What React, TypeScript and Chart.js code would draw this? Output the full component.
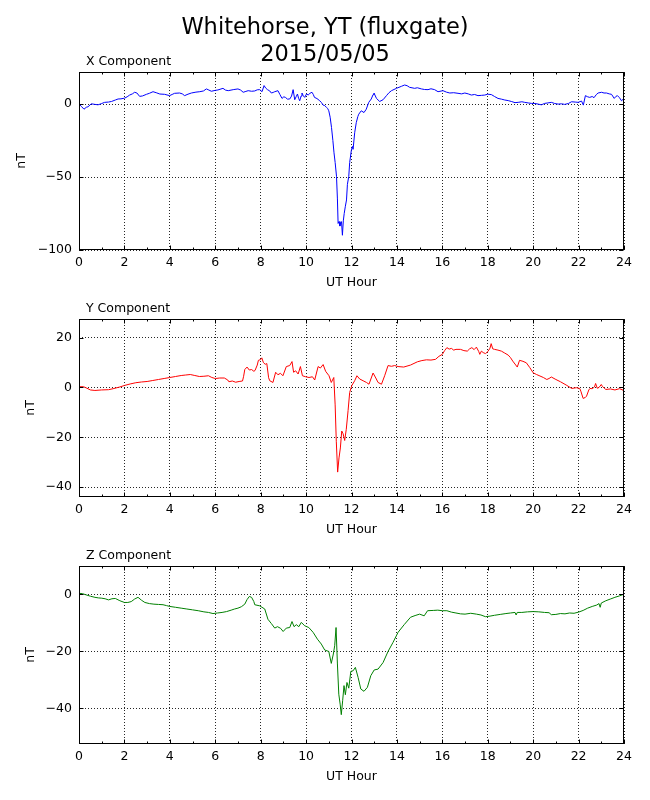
import React, { useEffect, useRef } from 'react';
import { Chart, registerables } from 'chart.js';

Chart.register(...registerables);

const FONT = "'DejaVu Sans', sans-serif";

const figureTitle = ['Whitehorse, YT (fluxgate)', '2015/05/05'];
const hourTicks = [0, 2, 4, 6, 8, 10, 12, 14, 16, 18, 20, 22, 24];
const hourMinorTicks = [1, 3, 5, 7, 9, 11, 13, 15, 17, 19, 21, 23];

const xTicks = [-100, -50, 0];
const yTicks = [-40, -20, 0, 20];
const zTicks = [-40, -20, 0];

// [UT hour, nT]
const xComponent: [number, number][] = [
  [0, 0], [0.1, -1.5], [0.22, -3.5], [0.32, -2.2], [0.4, -1.8], [0.54, 0.2], [0.7, -0.2], [0.84, -0.5],
  [1.0, 0.4], [1.13, 1.2], [1.3, 1.4], [1.43, 1.8], [1.6, 2.8], [1.72, 3.5], [1.85, 3.6], [2.01, 4.1],
  [2.12, 5.0], [2.23, 6.2], [2.35, 7.0], [2.45, 8.1], [2.55, 7.6], [2.67, 5.3], [2.8, 5.6], [2.97, 6.7],
  [3.1, 7.4], [3.26, 8.5], [3.4, 7.8], [3.56, 6.9], [3.77, 6.7], [3.99, 5.8], [4.1, 6.6], [4.21, 7.4],
  [4.43, 7.6], [4.55, 7.0], [4.65, 5.8], [4.8, 6.8], [4.95, 7.6], [5.15, 8.2], [5.32, 8.5], [5.48, 9.0],
  [5.61, 10.4], [5.72, 9.6], [5.83, 8.8], [6.0, 9.4], [6.12, 9.7], [6.34, 10.8], [6.45, 9.6], [6.57, 9.2],
  [6.79, 9.9], [7.0, 10.4], [7.12, 9.6], [7.23, 8.1], [7.35, 8.7], [7.45, 9.2], [7.6, 8.8], [7.74, 9.0],
  [7.85, 9.8], [7.96, 9.9], [8.06, 8.5], [8.15, 12.7], [8.22, 11.0], [8.3, 9.9], [8.4, 9.0], [8.47, 7.6],
  [8.55, 8.0], [8.62, 8.5], [8.76, 9.2], [8.85, 6.5], [8.94, 3.9], [9.02, 5.0], [9.09, 4.6], [9.18, 3.4],
  [9.28, 3.5], [9.36, 5.5], [9.43, 9.9], [9.5, 3.0], [9.56, 5.0], [9.62, 6.9], [9.67, 4.0], [9.72, 2.3],
  [9.78, 5.5], [9.82, 7.6], [9.88, 5.6], [9.94, 4.6], [10.02, 7.0], [10.09, 6.2], [10.17, 7.4], [10.26, 8.1],
  [10.32, 6.5], [10.37, 4.6], [10.48, 3.8], [10.6, 2.3], [10.68, 1.0], [10.75, -0.7], [10.82, -1.0], [10.9, -2.3],
  [10.95, -3.0], [11.0, -4.6], [11.06, -9.0], [11.12, -16.1], [11.18, -25], [11.23, -33.4], [11.28, -40], [11.34, -49.5],
  [11.38, -65], [11.41, -81.8], [11.45, -80.5], [11.49, -83.6], [11.53, -81], [11.56, -80.6], [11.6, -89.9], [11.64, -80],
  [11.68, -74.9], [11.73, -70], [11.78, -65.7], [11.82, -55], [11.88, -49.5], [11.92, -40], [11.99, -32], [12.04, -29],
  [12.07, -31], [12.14, -19.6], [12.21, -12.7], [12.28, -8.5], [12.32, -6.9], [12.43, -4.6], [12.55, -5.8], [12.65, -3.5],
  [12.76, 1.2], [12.87, 3.5], [12.95, 6.5], [12.99, 7.6], [13.1, 3.9], [13.24, 1.8], [13.39, 3.0], [13.54, 5.8],
  [13.65, 7.8], [13.76, 9.2], [13.98, 10.8], [14.2, 12.2], [14.34, 13.1], [14.45, 12.6], [14.56, 11.5], [14.78, 10.8],
  [14.9, 11.2], [15.08, 10.4], [15.22, 10.0], [15.37, 9.9], [15.5, 10.5], [15.66, 9.9], [15.81, 8.5], [16.03, 9.2],
  [16.18, 8.2], [16.33, 7.6], [16.5, 7.8], [16.69, 7.4], [16.85, 7.0], [16.99, 7.6], [17.14, 7.0], [17.28, 6.2],
  [17.42, 6.6], [17.57, 5.8], [17.72, 6.0], [17.87, 6.2], [18.0, 6.8], [18.16, 6.5], [18.3, 5.2], [18.45, 3.9],
  [18.6, 3.4], [18.75, 2.8], [18.9, 2.4], [19.04, 1.8], [19.2, 1.0], [19.34, 1.2], [19.5, 1.6], [19.63, 1.2],
  [19.78, 0.8], [19.92, 0.5], [20.08, 0.4], [20.22, 0], [20.36, -0.5], [20.51, 0.5], [20.65, 0.8], [20.8, 1.2],
  [20.95, 0.4], [21.1, 0], [21.25, 0.2], [21.39, -0.2], [21.55, 0.4], [21.69, 1.6], [21.85, 1.4], [21.98, 1.2],
  [22.13, 2.1], [22.21, -0.7], [22.3, 5.8], [22.4, 5.0], [22.49, 4.6], [22.6, 5.2], [22.68, 4.4], [22.78, 6.5],
  [22.86, 7.6], [23.01, 8.1], [23.12, 7.6], [23.23, 7.6], [23.35, 7.0], [23.45, 6.7], [23.57, 3.9], [23.64, 5.2],
  [23.71, 5.8], [23.8, 4.4], [23.89, 2.3], [24.0, 3.9],
];

const yComponent: [number, number][] = [
  [0, 0.3], [0.2, 0.3], [0.35, -0.3], [0.5, -1.0], [0.7, -1.2], [1.0, -1.0], [1.3, -0.9], [1.5, -0.5],
  [1.8, 0.2], [2.0, 0.8], [2.25, 1.4], [2.5, 1.9], [2.75, 2.2], [3.0, 2.4], [3.25, 2.8], [3.5, 3.2],
  [3.75, 3.6], [4.0, 4.0], [4.25, 4.4], [4.5, 4.8], [4.7, 5.0], [4.9, 5.2], [5.1, 4.8], [5.3, 4.4],
  [5.5, 4.5], [5.7, 4.7], [5.85, 4.0], [6.0, 3.6], [6.2, 3.8], [6.4, 3.8], [6.55, 3.0], [6.6, 2.3],
  [6.75, 2.6], [6.9, 2.1], [7.05, 2.4], [7.2, 2.6], [7.25, 4.5], [7.3, 7.2], [7.4, 8.2], [7.5, 7.0],
  [7.6, 7.2], [7.7, 6.5], [7.75, 6.8], [7.85, 9.0], [7.9, 10.9], [8.0, 11.2], [8.05, 11.9], [8.12, 10.0],
  [8.2, 9.3], [8.27, 9.6], [8.35, 3.9], [8.4, 2.7], [8.54, 2.0], [8.66, 6.1], [8.76, 5.1], [8.87, 5.7],
  [8.98, 4.7], [9.13, 8.4], [9.28, 8.8], [9.38, 10.4], [9.45, 6.1], [9.54, 6.7], [9.65, 5.4], [9.75, 8.4],
  [9.84, 4.7], [9.98, 4.3], [10.13, 4.0], [10.28, 4.3], [10.38, 3.0], [10.53, 8.4], [10.63, 7.8], [10.75, 9.2],
  [10.86, 6.5], [11.01, 4.7], [11.11, 2.0], [11.22, 4.0], [11.28, -7.0], [11.33, -21.6], [11.39, -34.0], [11.45, -28.3],
  [11.51, -24.3], [11.57, -17.5], [11.63, -18.6], [11.7, -21.3], [11.77, -16.8], [11.85, -9.2], [11.92, -2.0], [12.01, 0.7],
  [12.14, 2.7], [12.24, 4.7], [12.36, 3.4], [12.51, 2.7], [12.66, 2.0], [12.77, 1.3], [12.95, 5.8], [13.07, 3.8],
  [13.17, 2.0], [13.32, 1.3], [13.46, 4.7], [13.61, 8.8], [13.76, 8.5], [13.9, 8.8], [14.05, 8.4], [14.3, 8.2],
  [14.6, 9.0], [14.9, 10.3], [15.1, 10.8], [15.3, 11.1], [15.5, 11.0], [15.7, 11.3], [15.85, 12.5], [16.0, 13.3],
  [16.1, 14.8], [16.2, 16.0], [16.3, 15.4], [16.4, 15.7], [16.5, 15.0], [16.6, 15.3], [16.8, 15.3], [16.95, 14.8],
  [17.1, 14.6], [17.2, 15.5], [17.3, 16.0], [17.4, 15.2], [17.5, 16.2], [17.6, 14.5], [17.65, 13.3], [17.72, 14.6],
  [17.8, 14.0], [17.9, 13.6], [18.0, 14.4], [18.1, 15.8], [18.15, 17.6], [18.22, 15.5], [18.3, 15.3], [18.45, 15.0],
  [18.6, 14.6], [18.75, 13.8], [18.9, 13.0], [19.0, 12.0], [19.1, 10.6], [19.2, 9.4], [19.3, 8.2], [19.4, 10.9],
  [19.55, 10.5], [19.7, 9.9], [19.85, 8.0], [20.0, 5.9], [20.15, 5.2], [20.3, 4.6], [20.45, 4.0], [20.6, 3.2],
  [20.7, 3.6], [20.8, 4.2], [21.0, 3.2], [21.2, 2.3], [21.45, 1.0], [21.7, -0.4], [21.9, -0.1], [22.05, -0.4],
  [22.1, -1.5], [22.2, -4.4], [22.3, -4.0], [22.35, -3.5], [22.45, -1.0], [22.5, -0.4], [22.6, -0.5], [22.7, 0.2],
  [22.75, 1.6], [22.82, -0.3], [22.9, 0.0], [23.0, 1.2], [23.05, 0.4], [23.2, -0.8], [23.4, -0.6], [23.6, -1.0],
  [23.8, -0.5], [23.95, -1.0], [24.0, -1.7],
];

const zComponent: [number, number][] = [
  [0, 0.4], [0.15, 0.3], [0.3, -0.1], [0.5, -0.6], [0.7, -1.0], [0.85, -1.2], [1.0, -1.3], [1.15, -1.5],
  [1.3, -1.9], [1.45, -1.5], [1.6, -1.4], [1.8, -2.2], [2.0, -2.8], [2.15, -2.8], [2.3, -2.5], [2.45, -1.6],
  [2.6, -1.0], [2.75, -2.0], [2.9, -2.8], [3.1, -3.2], [3.3, -3.4], [3.5, -3.5], [3.7, -3.6], [3.85, -3.9],
  [4.0, -4.2], [4.25, -4.5], [4.5, -4.8], [4.75, -5.1], [5.0, -5.4], [5.25, -5.7], [5.5, -6.1], [5.7, -6.3],
  [5.9, -6.7], [6.1, -6.5], [6.3, -6.3], [6.5, -6.0], [6.7, -5.5], [6.85, -5.1], [7.0, -4.8], [7.15, -4.3],
  [7.3, -3.4], [7.4, -1.8], [7.5, -0.7], [7.6, -1.0], [7.7, -2.5], [7.74, -3.6], [7.96, -4.0], [8.18, -5.1],
  [8.32, -8.7], [8.47, -10.2], [8.62, -11.8], [8.74, -11.3], [8.88, -11.9], [8.99, -13.0], [9.13, -11.8], [9.28, -11.6],
  [9.38, -9.5], [9.47, -11.3], [9.57, -10.6], [9.68, -11.3], [9.79, -9.8], [9.94, -11.0], [10.12, -11.6], [10.31, -13.3],
  [10.5, -15.7], [10.67, -17.4], [10.82, -19.5], [11.0, -20.0], [11.11, -24.2], [11.2, -20.9], [11.26, -18.0], [11.32, -11.6],
  [11.38, -24.4], [11.44, -35.0], [11.5, -38.5], [11.55, -42.2], [11.61, -37.3], [11.67, -32.0], [11.73, -35.2], [11.8, -30.9],
  [11.88, -32.9], [11.97, -27.0], [12.07, -26.8], [12.17, -25.6], [12.29, -29.1], [12.41, -33.2], [12.55, -34.0], [12.7, -32.6],
  [12.85, -28.5], [13.0, -26.5], [13.17, -26.2], [13.39, -23.9], [13.61, -20.0], [13.83, -16.8], [14.05, -13.3], [14.32, -10.6],
  [14.6, -8.0], [14.8, -7.4], [15.0, -6.9], [15.2, -7.5], [15.35, -5.7], [15.6, -5.6], [15.8, -5.5], [16.0, -5.7],
  [16.2, -5.7], [16.4, -6.2], [16.6, -6.5], [16.8, -6.8], [17.0, -6.9], [17.25, -6.6], [17.5, -6.9], [17.7, -7.2],
  [17.9, -7.8], [18.1, -7.6], [18.3, -7.3], [18.55, -7.0], [18.8, -6.7], [19.0, -6.5], [19.2, -6.3], [19.25, -7.2],
  [19.3, -6.3], [19.5, -6.3], [19.75, -6.1], [20.0, -6.0], [20.25, -6.1], [20.5, -6.3], [20.7, -6.4], [20.8, -7.1],
  [21.0, -7.0], [21.2, -6.7], [21.4, -6.8], [21.6, -6.5], [21.8, -6.6], [22.0, -6.2], [22.2, -5.6], [22.4, -4.8],
  [22.6, -4.2], [22.8, -3.7], [22.9, -3.2], [22.95, -4.5], [23.0, -3.0], [23.2, -2.2], [23.4, -1.6], [23.6, -1.0],
  [23.8, -0.5], [24.0, 0.1],
];

interface PanelProps {
  top: number;       // where the canvas starts on the page
  head: number;      // space above the plot box inside the canvas
  points: [number, number][];
  color: string;
  yMin: number;
  yMax: number;
  ticks: number[];
  heading: string;
  yTitlePad: number;
  title?: string[];
}

const minus = (v: number | string) => String(v).replace('-', '\u2212');

const Panel: React.FC<PanelProps> = ({ top, head, points, color, yMin, yMax, ticks, heading, yTitlePad, title }) => {
  const canvasRef = useRef<HTMLCanvasElement>(null);
  const height = head + 178 + 45;

  useEffect(() => {
    if (!canvasRef.current) return;

    // box, inward tick marks and the texts matplotlib puts around the axes
    const frame = {
      id: 'frame',
      afterDraw(chart: Chart) {
        const { ctx, chartArea: a, scales } = chart;
        const xs = scales.x;
        const ys = scales.y;
        ctx.save();
        ctx.strokeStyle = '#000';
        ctx.lineWidth = 1;
        const l = Math.round(a.left) + 0.5;
        const r = Math.round(a.right) - 0.5;
        const t = Math.round(a.top) + 0.5;
        const b = Math.round(a.bottom) - 0.5;
        ctx.strokeRect(l, t, r - l, b - t);
        ctx.beginPath();
        const mark = (h: number, len: number) => {
          const px = Math.round(xs.getPixelForValue(h)) + 0.5;
          ctx.moveTo(px, b); ctx.lineTo(px, b - len);
          ctx.moveTo(px, t); ctx.lineTo(px, t + len);
        };
        hourTicks.forEach(h => mark(h, 4));
        hourMinorTicks.forEach(h => mark(h, 2));
        ticks.forEach(v => {
          const py = Math.round(ys.getPixelForValue(v)) + 0.5;
          ctx.moveTo(l, py); ctx.lineTo(l + 4, py);
          ctx.moveTo(r, py); ctx.lineTo(r - 4, py);
        });
        ctx.stroke();

        ctx.fillStyle = '#000';
        ctx.textBaseline = 'alphabetic';
        ctx.textAlign = 'left';
        ctx.font = `12.5px ${FONT}`;
        ctx.fillText(heading, a.left + 7, a.top - 7);
        if (title) {
          ctx.textAlign = 'center';
          ctx.font = `22.5px ${FONT}`;
          ctx.fillText(title[0], 325, 34.3);
          ctx.fillText(title[1], 325, 60.7);
        }
        ctx.restore();
      },
    };

    const tickFont = { family: FONT, size: 12.5 };
    const chart = new Chart(canvasRef.current, {
      type: 'line',
      data: {
        datasets: [{
          data: points.map(([x, y]) => ({ x, y })),
          borderColor: color,
          borderWidth: 1,
          pointRadius: 0,
          tension: 0,
          fill: false,
        }],
      },
      options: {
        animation: false,
        responsive: false,
        layout: { padding: { top: head, left: 10, right: 26, bottom: 0 } },
        plugins: { legend: { display: false }, tooltip: { enabled: false } },
        scales: {
          x: {
            type: 'linear',
            min: 0,
            max: 24,
            afterBuildTicks: (s: any) => { s.ticks = hourTicks.map(value => ({ value })); },
            afterFit: (s: any) => { s.height = 45; },
            grid: { color: 'rgba(0,0,0,0.85)', lineWidth: 1, drawTicks: false },
            border: { display: false, dash: [1, 2] },
            ticks: { font: tickFont, color: '#000', padding: 5, autoSkip: false, maxRotation: 0 },
            title: { display: true, text: 'UT Hour', font: tickFont, color: '#000', padding: { top: 0, bottom: 4.5 } },
          },
          y: {
            type: 'linear',
            min: yMin,
            max: yMax,
            afterBuildTicks: (s: any) => { s.ticks = ticks.map(value => ({ value })); },
            afterFit: (s: any) => { s.width = 69; },
            grid: { color: 'rgba(0,0,0,0.85)', lineWidth: 1, drawTicks: false },
            border: { display: false, dash: [1, 2] },
            ticks: { font: tickFont, color: '#000', padding: 7, callback: (v: any) => minus(v) },
            title: { display: true, text: 'nT', font: tickFont, color: '#000', padding: { top: yTitlePad, bottom: 0 } },
          },
        },
      },
      plugins: [frame],
    });

    return () => chart.destroy();
  }, [points, color, yMin, yMax, ticks, heading, yTitlePad, title, head]);

  return (
    <div style={{ position: 'absolute', left: 0, top }}>
      <canvas ref={canvasRef} width={650} height={height} />
    </div>
  );
};

export default function App() {
  return (
    <div style={{ position: 'absolute', left: 0, top: 0, width: 650, height: 800, background: '#fff' }}>
      <Panel top={0} head={72} points={xComponent} color="#0000ff" yMin={-100} yMax={22}
        ticks={xTicks} heading="X Component" yTitlePad={4.5} title={figureTitle} />
      <Panel top={279} head={40} points={yComponent} color="#ff0000" yMin={-44} yMax={27.5}
        ticks={yTicks} heading="Y Component" yTitlePad={13.5} />
      <Panel top={526} head={40} points={zComponent} color="#008000" yMin={-52.5} yMax={10}
        ticks={zTicks} heading="Z Component" yTitlePad={13.5} />
    </div>
  );
}
